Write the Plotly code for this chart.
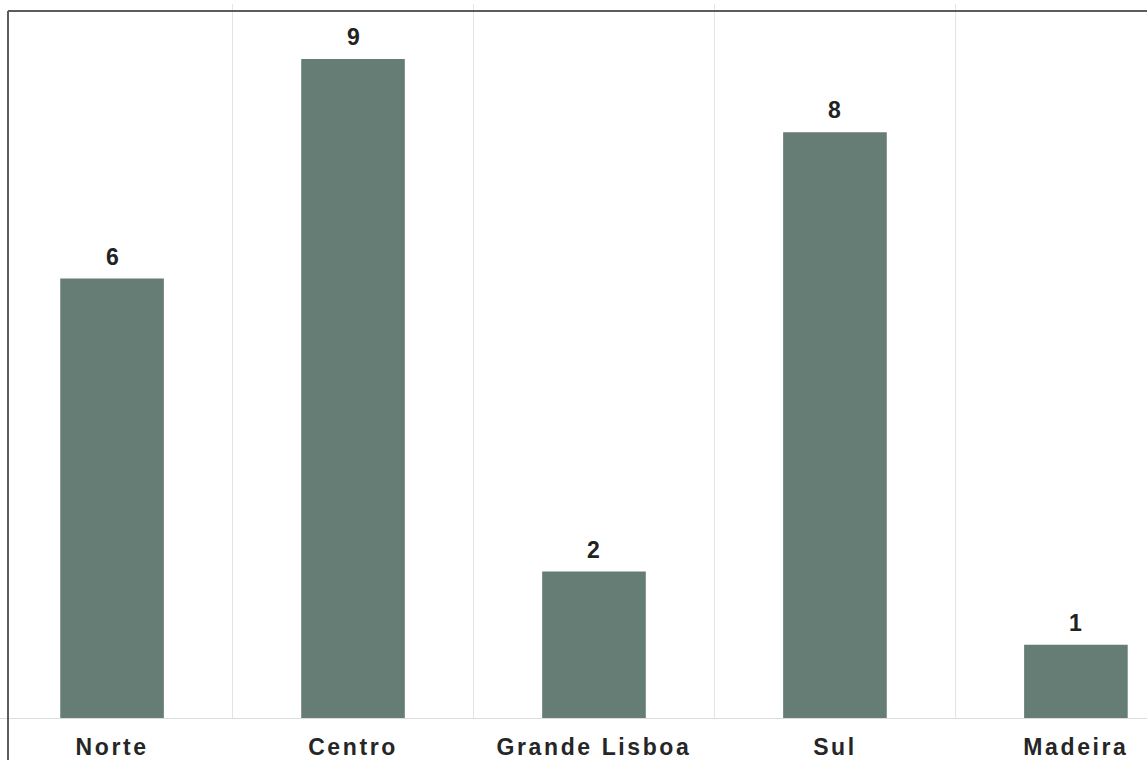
import plotly.graph_objects as go

regions = ["Norte", "Centro", "Grande Lisboa", "Sul", "Madeira"]
counts = [6, 9, 2, 8, 1]

bar_color = "#667d75"
FONT = "Liberation Sans, Arial, sans-serif"

fig = go.Figure()
fig.add_trace(go.Bar(
    x=regions, y=counts,
    marker=dict(color=bar_color, line=dict(width=0)),
    width=0.43,
    hoverinfo="skip",
))

for r, c in zip(regions, counts):
    fig.add_annotation(
        x=r, y=c, text=f"<b>{c}</b>", showarrow=False,
        yanchor="bottom", yshift=7,
        font=dict(family=FONT, size=23, color="#222222"),
    )

W, H = 1147, 760
mt, mb = 4, 42
ph = H - mt - mb
bx = 8 / W
top_y = (H - mb - 11) / ph
bot_y = -(mb) / ph

fig.add_shape(type="line", xref="paper", yref="paper", x0=bx, x1=bx, y0=bot_y, y1=top_y,
              line=dict(color="#5c5c5c", width=2))
fig.add_shape(type="line", xref="paper", yref="paper", x0=bx, x1=1.0, y0=top_y, y1=top_y,
              line=dict(color="#5c5c5c", width=2))

fig.update_layout(
    width=W, height=H,
    margin=dict(l=0, r=0, t=mt, b=mb),
    paper_bgcolor="white", plot_bgcolor="white",
    showlegend=False,
    xaxis=dict(
        type="category", range=[-0.465, 4.295],
        tickson="boundaries", showgrid=True, gridcolor="#e4e4e4", gridwidth=1,
        ticks="", showline=True, linecolor="#dcdcdc", linewidth=1,
        ticklabelstandoff=8,
        tickfont=dict(family=FONT, size=23, color="#262626", weight="bold"),
        zeroline=False,
    ),
    yaxis=dict(range=[0, 9.75], showgrid=False, showticklabels=False, zeroline=False, showline=False),
)

post = """
document.body.style.margin = '0';
document.body.style.overflow = 'hidden';
var gd = document.getElementById('{plot_id}');
function ls(){ gd.querySelectorAll('.xtick text').forEach(function(t){ t.style.letterSpacing='2.6px'; }); }
ls();
if (gd.on) { gd.on('plotly_afterplot', ls); }
"""

fig.write_html("out.html", post_script=post, config={"displayModeBar": False})
